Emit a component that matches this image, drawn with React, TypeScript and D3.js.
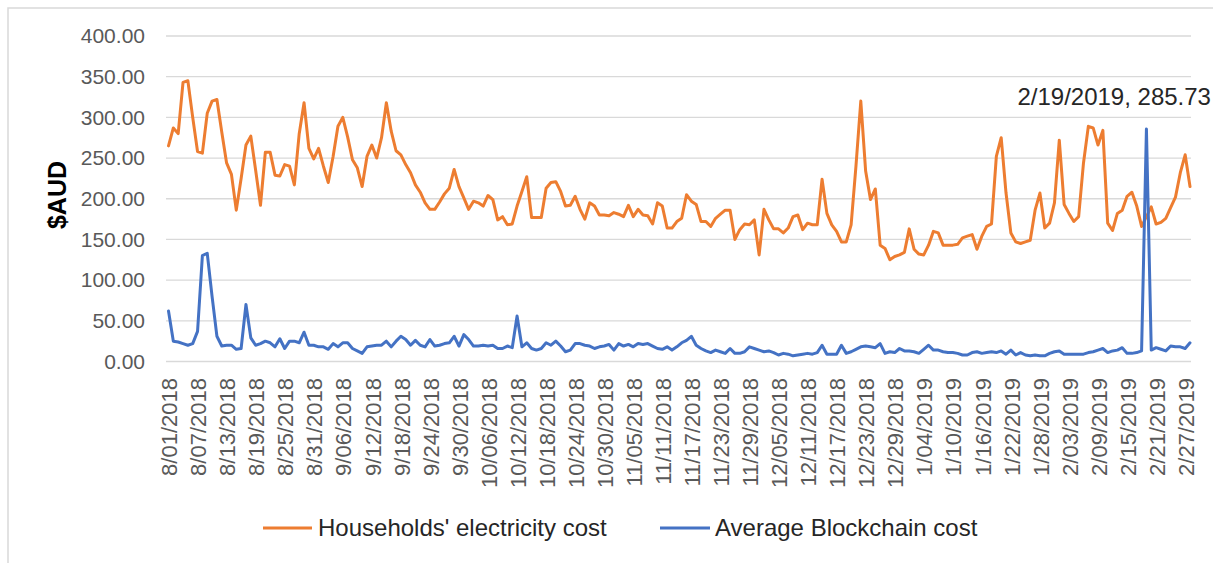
import React from "react";
import * as d3 from "d3";

// Daily categories 8/01/2018 .. 2/28/2019
const startDate = new Date(2018, 7, 1);
const endDate = new Date(2019, 2, 1);
const categories: string[] = d3.timeDay.range(startDate, endDate).map((d) => d3.timeFormat("%-m/%d/%Y")(d));

const tickLabels = [
  "8/01/2018", "8/07/2018", "8/13/2018", "8/19/2018", "8/25/2018", "8/31/2018",
  "9/06/2018", "9/12/2018", "9/18/2018", "9/24/2018", "9/30/2018", "10/06/2018",
  "10/12/2018", "10/18/2018", "10/24/2018", "10/30/2018", "11/05/2018", "11/11/2018",
  "11/17/2018", "11/23/2018", "11/29/2018", "12/05/2018", "12/11/2018", "12/17/2018",
  "12/23/2018", "12/29/2018", "1/04/2019", "1/10/2019", "1/16/2019", "1/22/2019",
  "1/28/2019", "2/03/2019", "2/09/2019", "2/15/2019", "2/21/2019", "2/27/2019",
];

const householdCost = [
  265, 287, 280, 343, 345, 300, 258, 256, 305, 320,
  322, 282, 244, 230, 186, 225, 266, 277, 235, 192,
  257, 257, 229, 228, 242, 240, 217, 280, 318, 262,
  249, 262, 240, 220, 252, 289, 300, 276, 248, 238,
  215, 252, 266, 250, 275, 318, 283, 259, 254, 242,
  232, 217, 208, 195, 187, 187, 196, 206, 213, 236,
  215, 201, 187, 197, 195, 191, 204, 199, 174, 178,
  168, 169, 191, 209, 227, 177, 177, 177, 213, 220,
  221, 209, 191, 192, 203, 187, 175, 195, 191, 180,
  180, 179, 183, 181, 178, 192, 178, 187, 180, 179,
  169, 195, 191, 164, 164, 172, 176, 205, 197, 193,
  172, 172, 166, 176, 181, 186, 186, 150, 162, 169,
  168, 174, 131, 187, 174, 163, 163, 158, 164, 178,
  180, 162, 170, 168, 168, 224, 182, 168, 160, 147,
  147, 168, 240, 320, 234, 199, 212, 143, 139, 125,
  129, 131, 134, 163, 138, 132, 131, 143, 160, 158,
  143, 143, 143, 144, 152, 154, 156, 138, 154, 166,
  169, 252, 275, 207, 158, 147, 145, 147, 149, 186,
  207, 164, 170, 195, 272, 193, 182, 172, 178, 244,
  289, 287, 266, 284, 170, 161, 182, 186, 203, 208,
  191, 166, 178, 190, 169, 171, 176, 189, 202, 232,
  254, 215,
];

const blockchainCost = [
  62, 25, 24, 22, 20, 22, 37, 130, 133, 80,
  31, 19, 20, 20, 15, 16, 70, 29, 20, 22,
  25, 23, 18, 28, 16, 25, 25, 23, 36, 20,
  20, 18, 18, 15, 22, 18, 23, 23, 16, 13,
  10, 18, 19, 20, 20, 25, 18, 25, 31, 27,
  20, 26, 20, 18, 27, 19, 20, 22, 23, 31,
  19, 33, 27, 19, 19, 20, 19, 20, 16, 16,
  19, 17, 56, 18, 23, 16, 14, 16, 23, 20,
  25, 19, 12, 14, 22, 22, 20, 19, 16, 18,
  19, 21, 14, 22, 19, 21, 18, 22, 21, 22,
  19, 16, 15, 18, 14, 18, 23, 26, 31, 20,
  16, 13, 11, 14, 12, 10, 16, 10, 10, 12,
  18, 16, 14, 12, 13, 11, 8, 10, 9, 7,
  8, 9, 10, 9, 11, 20, 9, 9, 9, 20,
  10, 12, 15, 18, 19, 18, 17, 22, 10, 12,
  11, 16, 13, 13, 12, 10, 15, 20, 14, 14,
  12, 11, 11, 10, 8, 8, 11, 12, 10, 11,
  12, 11, 13, 9, 14, 8, 11, 8, 7, 8,
  7, 7, 10, 12, 13, 9, 9, 9, 9, 9,
  11, 12, 14, 16, 11, 13, 14, 17, 10, 10,
  11, 13, 285.73, 14, 17, 15, 13, 19, 18, 18,
  16, 23,
];

const yTicks = [0, 50, 100, 150, 200, 250, 300, 350, 400];
const seriesNames = ["Households' electricity cost", "Average Blockchain cost"];
const annotationIndex = 202;

const ORANGE = "#ED7D31";
const BLUE = "#4472C4";
const FONT = "'Liberation Sans', Arial, sans-serif";

export default function App() {
  const x = d3.scalePoint<string>().domain(categories).range([168.5, 1190]);
  const y = d3.scaleLinear().domain([0, 400]).range([361.5, 36]);

  const line = d3
    .line<number>()
    .x((_, i) => x(categories[i]) as number)
    .y((d) => y(d));

  const annX = x(categories[annotationIndex]) as number;

  return (
    <svg
      width={1213}
      height={563}
      style={{ position: "absolute", left: 0, top: 0, background: "#fff" }}
      fontFamily={FONT}
    >
      <rect x={0} y={0} width={1213} height={563} fill="#fff" />
      <rect x={8} y={8} width={1300} height={700} fill="none" stroke="#d9d9d9" strokeWidth={1.5} />

      {yTicks.map((t) => (
        <g key={t}>
          <line x1={166} x2={1191} y1={y(t)} y2={y(t)} stroke="#d9d9d9" strokeWidth={1.3} />
          <text x={145} y={y(t)} dy="0.35em" textAnchor="end" fontSize={21} fill="#595959">
            {t.toFixed(2)}
          </text>
        </g>
      ))}

      <text
        transform={`translate(57,195) rotate(-90)`}
        textAnchor="middle"
        dy="0.35em"
        fontSize={25}
        fontWeight="bold"
        fill="#000"
      >
        $AUD
      </text>

      {tickLabels.map((lab) => {
        const xi = x(lab) as number;
        return (
          <text
            key={lab}
            transform={`translate(${xi + 1},378) rotate(-90)`}
            textAnchor="end"
            dy="0.35em"
            fontSize={22}
            fill="#595959"
          >
            {lab}
          </text>
        );
      })}

      <path d={line(householdCost) || ""} fill="none" stroke={ORANGE} strokeWidth={3} strokeLinejoin="round" strokeLinecap="round" />
      <path d={line(blockchainCost) || ""} fill="none" stroke={BLUE} strokeWidth={3} strokeLinejoin="round" strokeLinecap="round" />

      <text x={annX - 129} y={105} fontSize={24} fill="#262626">
        {`${categories[annotationIndex].replace(/^(\d+)\/0?(\d+)/, (_m, a, b) => `${a}/${b}`)}, ${blockchainCost[annotationIndex]}`}
      </text>

      <line x1={263} x2={312} y1={528} y2={528} stroke={ORANGE} strokeWidth={3} />
      <text x={318} y={528} dy="0.35em" fontSize={24} fill="#262626">
        {seriesNames[0]}
      </text>
      <line x1={660} x2={710} y1={528} y2={528} stroke={BLUE} strokeWidth={3} />
      <text x={715} y={528} dy="0.35em" fontSize={24} fill="#262626">
        {seriesNames[1]}
      </text>
    </svg>
  );
}
